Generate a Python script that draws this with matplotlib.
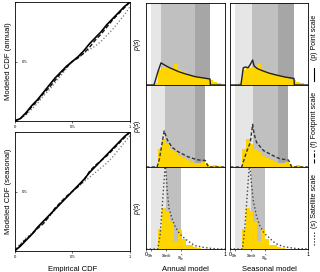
import numpy as np
import matplotlib
matplotlib.use("Agg")
import matplotlib.pyplot as plt
from matplotlib.lines import Line2D

plt.rcParams['font.family'] = ['Liberation Sans', 'DejaVu Sans']
plt.rcParams['mathtext.fontset'] = 'custom'
plt.rcParams['mathtext.it'] = 'Liberation Sans:italic'
plt.rcParams['mathtext.rm'] = 'Liberation Sans'

# ---- CDF comparison (left column) ----
x_emp = [0, .05, .1, .15, .2, .25, .3, .35, .4, .45, .5, .55, .6, .65, .7, .75, .8, .85, .9, .95, 1]

p_ann = [0, .02, .07, .13, .18, .24, .30, .36, .41, .46, .50, .54, .59, .65, .70, .75, .81, .86, .91, .96, 1]
f_ann = [0, .02, .06, .12, .17, .23, .28, .34, .40, .45, .50, .53, .57, .62, .68, .73, .79, .85, .90, .95, 1]
s_ann = [0, .02, .05, .10, .15, .21, .26, .32, .38, .44, .50, .53, .57, .60, .63, .67, .72, .77, .83, .89, .96]

p_sea = [0, .04, .09, .14, .20, .25, .30, .35, .40, .45, .50, .55, .60, .66, .71, .76, .81, .86, .91, .96, 1]
f_sea = [0, .05, .10, .14, .19, .23, .29, .36, .41, .46, .50, .54, .59, .67, .72, .76, .80, .85, .90, .95, 1]
s_sea = [0, .06, .11, .15, .19, .24, .29, .34, .40, .45, .50, .54, .58, .62, .66, .70, .74, .79, .85, .91, .97]

# ---- pdf panels ----
edges = [0, .05, .1, .15, .2, .25, .3, .35, .4, .45, .5, .55, .6, .65, .7, .75, .8, .85, .9, .95, 1]
hist_point = [0, 0, .2, 1.8, 2.2, 2.1, 2.2, 2.6, 1.9, 1.7, 1.4, 1.25, 1.1, 1.0, .9, .75, .6, .4, .22, 0]
hist_foot = [0, 0, 0, 2.2, 3.4, 2.8, 2.2, 1.8, 1.4, 1.1, .9, .6, .5, .5, .55, .35, .15, .25, .15, .03]
hist_sat = [0, 0, 0, 2.5, 5.0, 4.6, 3.3, 1.0, 2.3, 1.2, .5, .5, .3, .1, .05, 0, 0, 0, 0, 0]

# model pdf curves: (s, p(s))
pa_s = [0, .10, .12, .15, .19, .25, .3, .42, .5, .63, .7, .81, .815, 1]
pa_p = [0, 0, .6, 1.6, 2.7, 2.35, 2.1, 1.6, 1.35, 1.0, .9, .73, 0, 0]
ps_s = [0, .14, .17, .2, .23, .26, .29, .31, .35, .4, .5, .6, .7, .82, .825, 1]
ps_p = [0, 0, 2.1, 2.2, 2.1, 2.5, 3.05, 2.3, 2.0, 1.8, 1.45, 1.2, .98, .8, 0, 0]
fa_s = [0, .14, .17, .2, .23, .27, .33, .4, .46, .53, .61, .67, .75, .79, 1]
fa_p = [0, 0, 1.0, 2.7, 4.4, 3.3, 2.4, 1.9, 1.6, 1.25, 1.0, .85, .8, 0, 0]
fs_s = [0, .15, .21, .26, .29, .31, .34, .43, .56, .64, .75, .79, 1]
fs_p = [0, 0, 1.8, 3.0, 5.2, 4.0, 3.0, 2.0, 1.35, 1.0, .85, 0, 0]
sa_s = [0, .15, .18, .21, .245, .27, .29, .33, .37, .43, .5, .57, .63, .7, .8, .92, 1]
sa_p = [0, 0, 1.8, 5.8, 10.5, 7.0, 5.0, 3.7, 2.7, 1.8, 1.2, .7, .4, .25, .1, 0, 0]
ss_s = [0, .16, .19, .22, .25, .28, .3, .34, .38, .44, .51, .58, .68, .85, 1]
ss_p = [0, 0, 2.5, 6.5, 10.5, 7.5, 5.8, 4.0, 2.9, 1.9, 1.3, .7, .3, .05, 0]

# s_h, s_wilt, s*, s_fc per panel
th_pa = [.06, .19, .62, .81]
th_ps = [.06, .28, .62, .82]
th_fa = [.06, .24, .62, .75]
th_fs = [.06, .29, .62, .74]
th_sa = [.06, .25, .44, .44]
th_ss = [.06, .27, .45, .45]

W, H = 320, 272
fig = plt.figure(figsize=(3.2, 2.72), dpi=100)


def px_axes(x0, y0, x1, y1):
    return fig.add_axes([x0 / W, 1 - y1 / H, (x1 - x0) / W, (y1 - y0) / H])


def cdf_panel(ax, p, f, s, ylab, xlab=None):
    ax.plot(x_emp, s, ':', color='#777777', lw=0.9)
    ax.plot(x_emp, f, '--', color='#111111', lw=1.0, dashes=(3, 1.5))
    ax.plot(x_emp, p, '-', color='black', lw=1.2)
    ax.set_xlim(0, 1)
    ax.set_ylim(0, 1)
    ax.set_xticks([0, .5, 1])
    ax.set_xticklabels(['0', '0.5', '1'])
    ax.set_yticks([0, .5, 1])
    ax.set_yticklabels(['', '0.5', ''])
    ax.tick_params(axis='x', length=1.5, width=0.4, labelsize=3, pad=1.5)
    ax.tick_params(axis='y', direction='in', length=1.5, width=0.4,
                   labelsize=3, pad=-9)
    ax.set_ylabel(ylab, fontsize=5.5, labelpad=2)
    if xlab:
        ax.set_xlabel(xlab, fontsize=5.5, labelpad=5)
    for sp in ax.spines.values():
        sp.set_linewidth(0.6)


ax1 = px_axes(14.5, 2, 130, 121)
cdf_panel(ax1, p_ann, f_ann, s_ann, 'Modeled CDF (annual)')
ax2 = px_axes(14.5, 132, 130, 251)
cdf_panel(ax2, p_sea, f_sea, s_sea, 'Modeled CDF (seasonal)', 'Empirical CDF')


def pdf_panel(ax, hist, ls, lp, style, th, ticks, ylab=True, xlab=None):
    sh, sw, sst, sfc = th
    ax.axvspan(sh, sw, color='#e6e6e6', lw=0)
    ax.axvspan(sw, sst, color='#c0c0c0', lw=0)
    if sfc > sst:
        ax.axvspan(sst, sfc, color='#a6a6a6', lw=0)
    ax.bar(edges[:-1], hist, width=np.diff(edges), align='edge',
           color='#ffd500', lw=0)
    if style == '-':
        ax.plot(ls, lp, '-', color='#222222', lw=1.0)
    elif style == '--':
        ax.plot(ls, lp, '--', color='#333333', lw=1.0, dashes=(2.5, 1.5))
    else:
        ax.plot(ls, lp, ':', color='#444444', lw=1.0)
    ax.set_xlim(0, 1)
    ax.set_ylim(0, 10)
    ax.set_yticks([])
    if ticks is None:
        ax.set_xticks([])
    else:
        ax.set_xticks(ticks)
        ax.set_xticklabels(['0', '$s_h$', '$s_{wilt}$', '$s^*_{fc}$', '1'])
        ax.tick_params(axis='x', length=1.5, width=0.4, labelsize=4, pad=1)
    if ylab:
        ax.set_ylabel('$p(s)$', fontsize=5, labelpad=2)
    if xlab:
        ax.set_xlabel(xlab, fontsize=5.5, labelpad=2)
    for sp in ax.spines.values():
        sp.set_linewidth(0.6)


rows = [(3, 85), (85, 167), (167, 249)]
cols = [(146, 225), (230, 308)]

a = px_axes(cols[0][0], rows[0][0], cols[0][1], rows[0][1])
pdf_panel(a, hist_point, pa_s, pa_p, '-', th_pa, None)
a = px_axes(cols[1][0], rows[0][0], cols[1][1], rows[0][1])
pdf_panel(a, hist_point, ps_s, ps_p, '-', th_ps, None, ylab=False)
a = px_axes(cols[0][0], rows[1][0], cols[0][1], rows[1][1])
pdf_panel(a, hist_foot, fa_s, fa_p, '--', th_fa, None)
a = px_axes(cols[1][0], rows[1][0], cols[1][1], rows[1][1])
pdf_panel(a, hist_foot, fs_s, fs_p, '--', th_fs, None, ylab=False)
a = px_axes(cols[0][0], rows[2][0], cols[0][1], rows[2][1])
pdf_panel(a, hist_sat, sa_s, sa_p, ':', th_sa, [0] + th_sa[:3] + [1],
          xlab='Annual model')
a = px_axes(cols[1][0], rows[2][0], cols[1][1], rows[2][1])
pdf_panel(a, hist_sat, ss_s, ss_p, ':', th_ss, [0] + th_ss[:3] + [1],
          ylab=False, xlab='Seasonal model')

# scale labels on the right
labels = ['(p) Point scale', '(f) Footprint scale', '(s) Satellite scale']
styles = ['-', '--', ':']
xl = 314
for (y0, y1), lab, st in zip(rows, labels, styles):
    fig.text(xl / W, 1 - (y0 + (y1 - y0) * 0.42) / H, lab, rotation=90,
             fontsize=5, ha='center', va='center')
    ln = Line2D([xl / W, xl / W], [1 - (y1 - 4) / H, 1 - (y1 - 17) / H],
                transform=fig.transFigure, color='black', lw=0.8, ls=st)
    fig.add_artist(ln)

fig.savefig('out.png', dpi=100)
